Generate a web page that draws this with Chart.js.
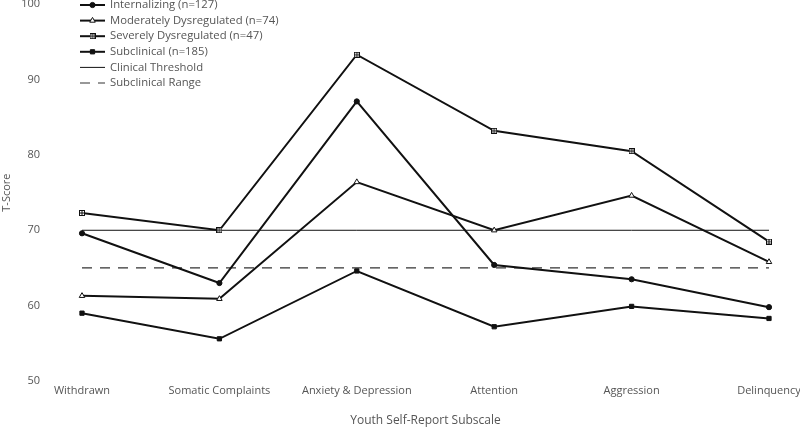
<!DOCTYPE html>
<html>
<head>
<meta charset="utf-8">
<script src="https://cdn.jsdelivr.net/npm/chart.js@4.4.0/dist/chart.umd.min.js"></script>
<style>
  html, body { margin: 0; padding: 0; background: #fff; }
  #wrap { width: 800px; height: 427px; position: relative; }
</style>
</head>
<body>
<div id="wrap"><canvas id="chart"></canvas></div>
<script>
const categories = ['Withdrawn', 'Somatic Complaints', 'Anxiety & Depression', 'Attention', 'Aggression', 'Delinquency'];
const internalizing = [69.6, 63.0, 87.1, 65.4, 63.5, 59.8];
const moderately = [61.3, 60.9, 76.4, 70.0, 74.6, 65.8];
const severely = [72.3, 70.0, 93.3, 83.2, 80.5, 68.5];
const subclinical = [59.0, 55.6, 64.6, 57.2, 59.9, 58.3];
const clinicalThreshold = [70, 70, 70, 70, 70, 70];
const subclinicalRange = [65, 65, 65, 65, 65, 65];
const yTicks = [50, 60, 70, 80, 90, 100];

const textColor = '#555';
const lineColor = '#111';

// square with a plus inside, like the original marker
function boxPlus() {
    const c = document.createElement('canvas');
    c.width = 6; c.height = 6;
    const g = c.getContext('2d');
    g.strokeStyle = lineColor;
    g.lineWidth = 1;
    g.fillStyle = '#fff';
    g.fillRect(0, 0, 6, 6);
    g.strokeRect(0.5, 0.5, 5, 5);
    g.beginPath();
    g.moveTo(3, 0.5); g.lineTo(3, 5.5);
    g.moveTo(0.5, 3); g.lineTo(5.5, 3);
    g.stroke();
    return c;
}
const boxPlusImg = boxPlus();

function series(label, data, style, radius, fill) {
    return {
        label: label, data: data,
        borderColor: lineColor, borderWidth: 2,
        pointStyle: style, pointRadius: radius, pointHoverRadius: radius,
        pointBackgroundColor: fill, pointBorderColor: lineColor, pointBorderWidth: 1,
        tension: 0
    };
}

const datasets = [
    series('Internalizing (n=127)', internalizing, 'circle', 2.6, lineColor),
    series('Moderately Dysregulated (n=74)', moderately, 'triangle', 3.2, '#fff'),
    series('Severely Dysregulated (n=47)', severely, boxPlusImg, 3, '#fff'),
    series('Subclinical (n=185)', subclinical, 'rect', 3, lineColor),
    { label: 'Clinical Threshold', data: clinicalThreshold, borderColor: lineColor, borderWidth: 1, pointRadius: 0 },
    { label: 'Subclinical Range', data: subclinicalRange, borderColor: '#333', borderWidth: 1.2, borderDash: [10, 8], pointRadius: 0 }
];

// legend drawn over the top-left of the plot
const legendPlugin = {
    id: 'overlayLegend',
    afterDraw(chart) {
        const ctx = chart.ctx;
        const x0 = 80, y0 = 5, step = 15.6;
        ctx.save();
        ctx.font = '11.3px "Open Sans"';
        ctx.textBaseline = 'middle';
        chart.data.datasets.forEach((ds, i) => {
            const y = y0 + i * step;
            ctx.strokeStyle = ds.borderColor;
            ctx.lineWidth = ds.borderWidth;
            ctx.setLineDash(ds.borderDash || []);
            ctx.beginPath();
            ctx.moveTo(x0, y); ctx.lineTo(x0 + 25, y);
            ctx.stroke();
            ctx.setLineDash([]);
            if (ds.pointRadius > 0) {
                ctx.fillStyle = ds.pointBackgroundColor;
                ctx.strokeStyle = lineColor;
                ctx.lineWidth = 1;
                Chart.helpers.drawPoint(ctx, { pointStyle: ds.pointStyle, radius: ds.pointRadius, borderWidth: 1 }, x0 + 12.5, y);
            }
            ctx.fillStyle = textColor;
            ctx.fillText(ds.label, x0 + 30, y);
        });
        ctx.restore();
    }
};

const ctx = document.getElementById('chart').getContext('2d');
const chart = new Chart(ctx, {
    type: 'line',
    data: { labels: categories, datasets: datasets },
    options: {
        responsive: true,
        maintainAspectRatio: false,
        animation: false,
        layout: { padding: { top: 0, right: 31, left: 0, bottom: 0 } },
        plugins: { legend: { display: false }, tooltip: { enabled: false } },
        scales: {
            x: {
                offset: false,
                grid: { display: false, drawTicks: false },
                border: { display: false },
                afterFit: axis => { axis.paddingLeft = 0; axis.paddingRight = 0; axis.height = 46; },
                ticks: { color: textColor, font: { family: 'Open Sans', size: 11 }, padding: 3, maxRotation: 0, autoSkip: false },
                title: { display: true, text: 'Youth Self-Report Subscale', color: textColor, font: { family: 'Open Sans', size: 12, lineHeight: 1.0 }, padding: { top: 0, bottom: 0 } }
            },
            y: {
                min: 50, max: 100,
                afterBuildTicks: axis => { axis.ticks = yTicks.map(v => ({ value: v })); },
                afterFit: axis => { axis.paddingTop = 4; axis.paddingBottom = 0; axis.width = 82; },
                grid: { display: false, drawTicks: false },
                border: { display: false },
                ticks: { color: textColor, font: { family: 'Open Sans', size: 11 }, padding: 42 },
                title: { display: true, text: 'T-Score', color: textColor, font: { family: 'Open Sans', size: 11 }, padding: { top: 0, bottom: 4 } }
            }
        }
    },
    plugins: [legendPlugin]
});
</script>
</body>
</html>
